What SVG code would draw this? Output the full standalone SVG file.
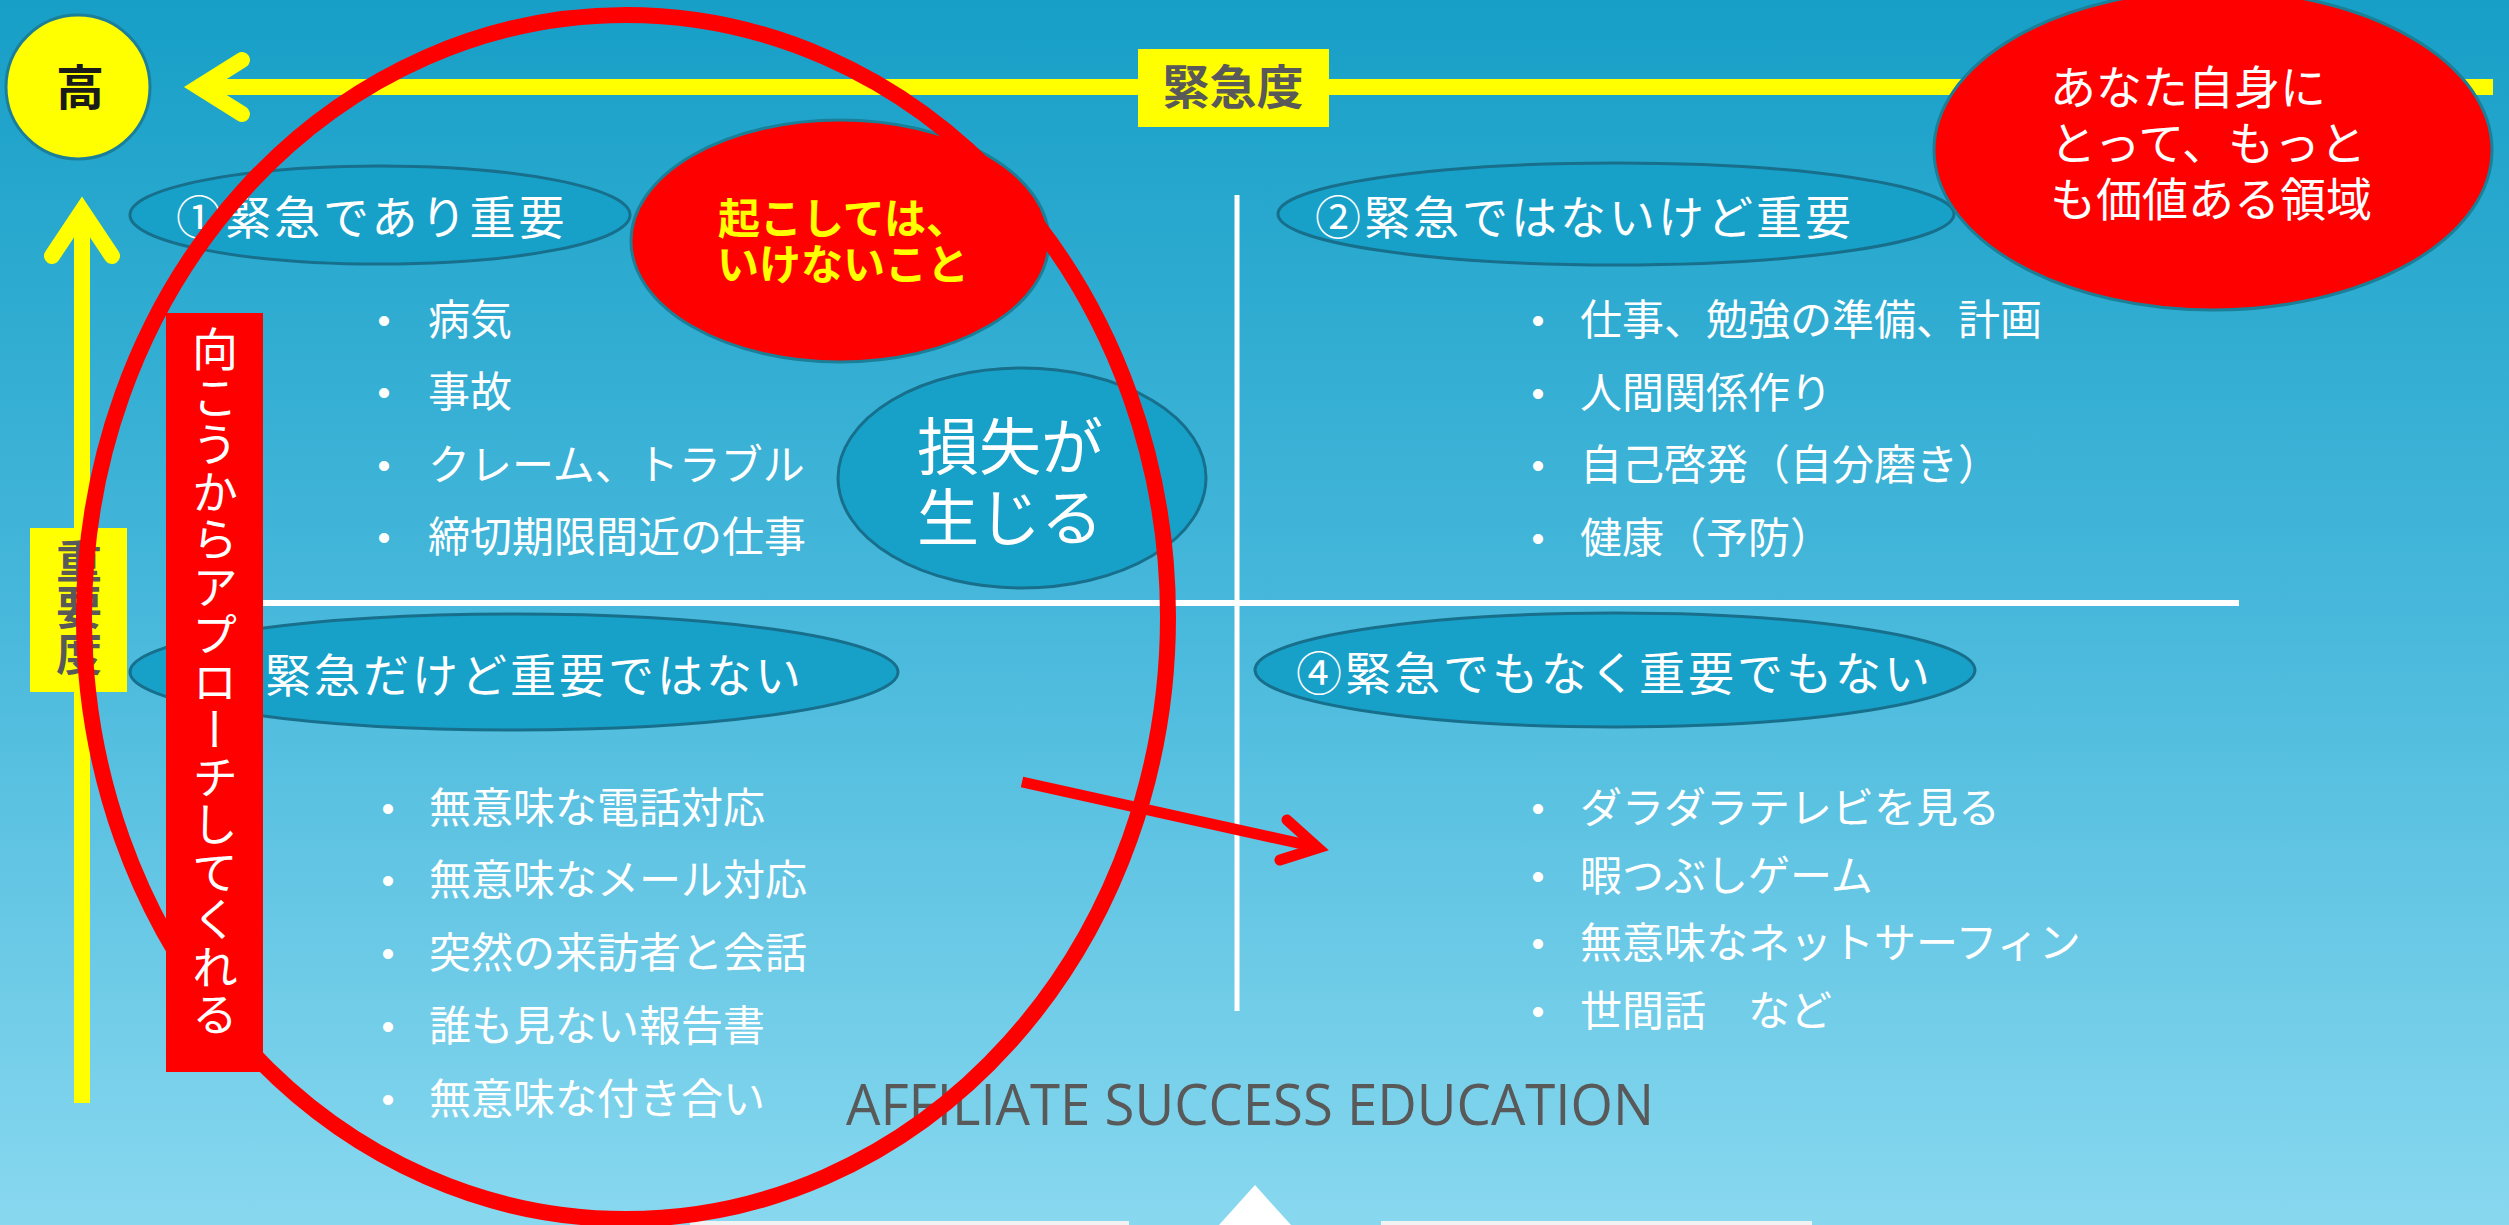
<svg xmlns="http://www.w3.org/2000/svg" width="2509" height="1225" viewBox="0 0 2509 1225">
<defs>
<linearGradient id="bg" x1="0" y1="0" x2="0" y2="1">
<stop offset="0" stop-color="#179fc7"/>
<stop offset="0.5" stop-color="#47b8db"/>
<stop offset="1" stop-color="#88d8ef"/>
</linearGradient>
</defs>
<style>
.jp{font-family:"Noto Sans CJK JP","Noto Sans",sans-serif;}
.w{fill:#ffffff;}
.lbl{font-size:46px;letter-spacing:3px;fill:#ffffff;}
.item{font-size:42px;fill:#ffffff;}
.dot{font-family:"Liberation Sans",sans-serif;font-size:37px;fill:#ffffff;text-anchor:middle;}
.oval{fill:#17a1c9;stroke:#176f8c;stroke-width:3;}
.redfill{fill:#ff0000;stroke:#1a7f97;stroke-width:3;}
.ax{fill:none;stroke:#ffff00;stroke-width:16;}
.div{stroke:#ffffff;}
.gray{fill:#595959;font-weight:bold;}
</style>
<rect x="0" y="0" width="2509" height="1225" fill="url(#bg)"/>

<g id="connectors">
<g id="axis-urgency">
<line class="ax" x1="196" y1="87" x2="2493" y2="87" stroke-linecap="butt"/>
<polyline class="ax" points="242,60 199,87 242,114" stroke-linecap="round" stroke-linejoin="miter"/>
</g>
<g id="axis-importance">
<line class="ax" x1="82" y1="212" x2="82" y2="1103"/>
<polyline class="ax" points="52,256 82,211 112,256" stroke-linecap="round" stroke-linejoin="miter"/>
</g>
</g>

<g id="label-urgency">
<rect x="1138" y="49" width="191" height="78" fill="#ffff00"/>
<text class="jp gray" x="1233" y="104" font-size="47" text-anchor="middle">緊急度</text>
</g>
<g id="label-importance">
<rect x="30" y="528" width="97" height="164" fill="#ffff00"/>
<text class="jp gray" x="79" y="538" font-size="46" style="writing-mode:vertical-rl">重要度</text>
</g>
<g id="high">
<circle cx="78" cy="87" r="72" fill="#ffff00" stroke="#1b7f99" stroke-width="3"/>
<text class="jp" x="80" y="105" font-size="48" font-weight="bold" fill="#1a1a1a" text-anchor="middle">高</text>
</g>

<g id="dividers">
<line class="div" x1="1237" y1="195" x2="1237" y2="1011" stroke-width="5"/>
<line class="div" x1="240" y1="603" x2="2239" y2="603" stroke-width="6"/>
</g>

<g id="q1">
<ellipse class="oval" cx="380" cy="215" rx="250" ry="49"/>
<text class="jp lbl" x="176" y="234">①緊急であり重要</text>
<text class="dot" x="384" y="333">•</text>
<text class="jp item" x="428" y="335">病気</text>
<text class="dot" x="384" y="405">•</text>
<text class="jp item" x="428" y="407">事故</text>
<text class="dot" x="384" y="478">•</text>
<text class="jp item" x="428" y="480">クレーム、トラブル</text>
<text class="dot" x="384" y="550">•</text>
<text class="jp item" x="428" y="552">締切期限間近の仕事</text>
</g>

<g id="q2">
<ellipse class="oval" cx="1616" cy="214" rx="338" ry="51"/>
<text class="jp lbl" x="1315" y="234">②緊急ではないけど重要</text>
<text class="dot" x="1538" y="333">•</text>
<text class="jp item" x="1580" y="335">仕事、勉強の準備、計画</text>
<text class="dot" x="1538" y="406">•</text>
<text class="jp item" x="1580" y="408">人間関係作り</text>
<text class="dot" x="1538" y="478">•</text>
<text class="jp item" x="1580" y="480">自己啓発（自分磨き）</text>
<text class="dot" x="1538" y="551">•</text>
<text class="jp item" x="1580" y="553">健康（予防）</text>
</g>

<g id="q3">
<ellipse class="oval" cx="514" cy="672" rx="384" ry="58"/>
<text class="jp lbl" x="265" y="692">緊急だけど重要ではない</text>
<text class="dot" x="388" y="821">•</text>
<text class="jp item" x="429" y="823">無意味な電話対応</text>
<text class="dot" x="388" y="893">•</text>
<text class="jp item" x="429" y="895">無意味なメール対応</text>
<text class="dot" x="388" y="966">•</text>
<text class="jp item" x="429" y="968">突然の来訪者と会話</text>
<text class="dot" x="388" y="1039">•</text>
<text class="jp item" x="429" y="1041">誰も見ない報告書</text>
<text class="dot" x="388" y="1112">•</text>
<text class="jp item" x="429" y="1114">無意味な付き合い</text>
</g>

<g id="q4">
<ellipse class="oval" cx="1615" cy="670" rx="360" ry="57"/>
<text class="jp lbl" x="1296" y="690">④緊急でもなく重要でもない</text>
<text class="dot" x="1538" y="821">•</text>
<text class="jp item" x="1580" y="823">ダラダラテレビを見る</text>
<text class="dot" x="1538" y="889">•</text>
<text class="jp item" x="1580" y="891">暇つぶしゲーム</text>
<text class="dot" x="1538" y="956">•</text>
<text class="jp item" x="1580" y="958">無意味なネットサーフィン</text>
<text class="dot" x="1538" y="1024">•</text>
<text class="jp item" x="1580" y="1026">世間話　など</text>
</g>

<g id="loss">
<ellipse class="oval" cx="1022" cy="478" rx="184" ry="110"/>
<text class="jp w" x="1010" y="470" font-size="62" text-anchor="middle">損失が</text>
<text class="jp w" x="1010" y="541" font-size="62" text-anchor="middle">生じる</text>
</g>

<g id="must-not">
<ellipse class="redfill" cx="840" cy="241" rx="209" ry="121"/>
<text class="jp" x="843" y="234" font-size="42" font-weight="bold" fill="#ffff00" text-anchor="middle">起こしては、</text>
<text class="jp" x="843" y="280" font-size="42" font-weight="bold" fill="#ffff00" text-anchor="middle">いけないこと</text>
</g>

<g id="most-valuable">
<ellipse class="redfill" cx="2213" cy="150" rx="279" ry="160"/>
<text class="jp w" x="2050" y="104" font-size="46">あなた自身に</text>
<text class="jp w" x="2050" y="160" font-size="46">とって、もっと</text>
<text class="jp w" x="2050" y="216" font-size="46">も価値ある領域</text>
</g>

<g id="footer">
<text x="846" y="1125" font-family="'Open Sans','Liberation Sans',sans-serif" font-size="56" fill="#595959" textLength="808" lengthAdjust="spacingAndGlyphs">AFFILIATE SUCCESS EDUCATION</text>
<polygon points="1255,1185 1300,1235 1210,1235" fill="#ffffff"/>
<rect x="690" y="1221" width="439" height="4" fill="#f2f2f2"/>
<rect x="1381" y="1221" width="431" height="4" fill="#f2f2f2"/>
</g>

<g id="q1-ring">
<ellipse cx="626" cy="617" rx="542" ry="602" fill="none" stroke="#ff0000" stroke-width="16"/>
</g>

<g id="approach">
<rect x="166" y="313" width="97" height="759" fill="#ff0000"/>
<text class="jp w" x="215" y="326" font-size="46" letter-spacing="1.5" style="writing-mode:vertical-rl">向こうからアプローチしてくれる</text>
</g>

<g id="connector-red">
<line x1="1022" y1="782" x2="1316" y2="847" stroke="#ff0000" stroke-width="11"/>
<polyline points="1287,820 1318,848 1280,860" fill="none" stroke="#ff0000" stroke-width="11" stroke-linecap="round" stroke-linejoin="miter"/>
</g>
</svg>
